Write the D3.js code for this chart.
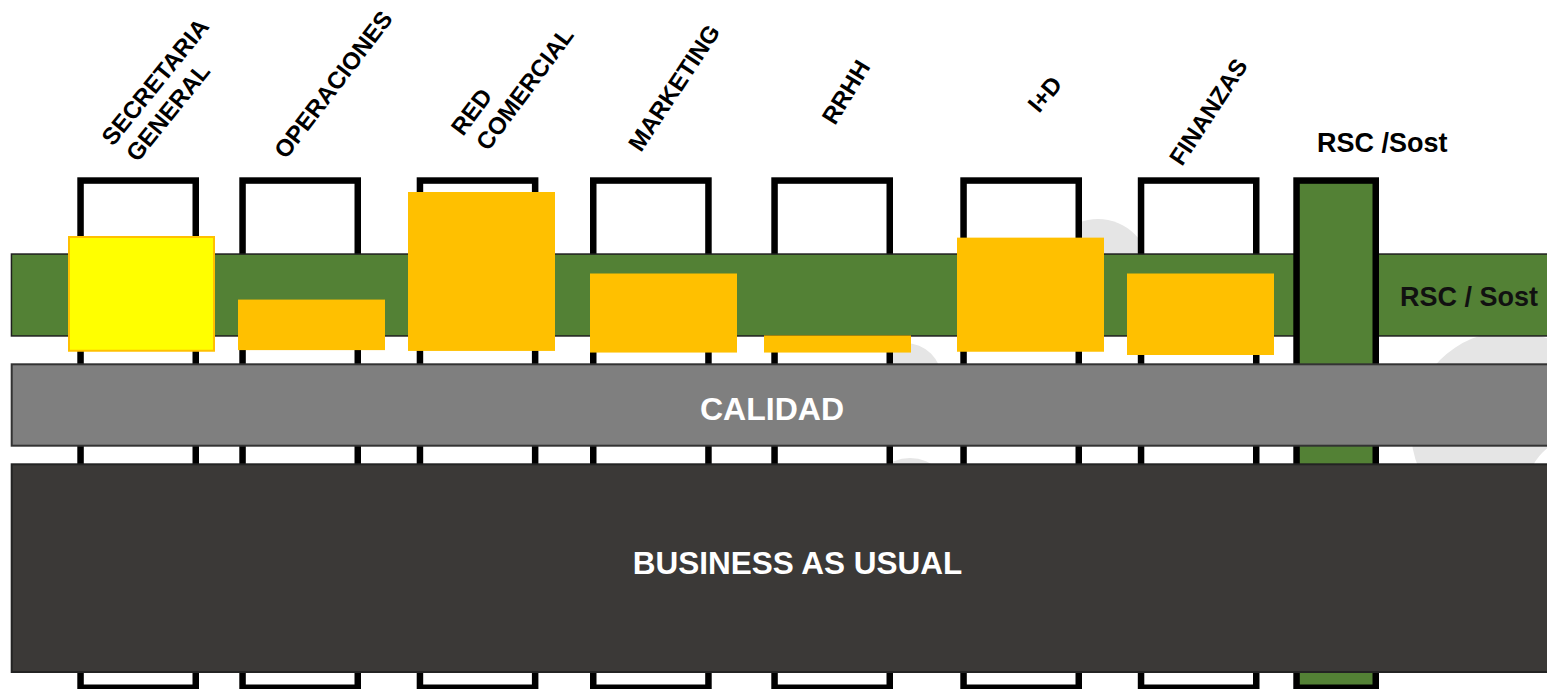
<!DOCTYPE html>
<html>
<head>
<meta charset="utf-8">
<style>
  body { margin: 0; background: #fff; }
  svg { display: block; }
</style>
</head>
<body>
<svg id="rsc-chart"></svg>
<script src="https://d3js.org/d3.v7.min.js"></script>
<script>

// business areas (vertical pillars) and the transversal RSC pillar
var areas = ['SECRETARIA GENERAL', 'OPERACIONES', 'RED COMERCIAL', 'MARKETING', 'RRHH', 'I+D', 'FINANZAS'];
var transversal = 'RSC /Sost';

// how far RSC reaches into each area (top and base of the orange box, 0-100)
var impactTop  = [73, 34, 100, 50, 12, 72, 50];
var impactBase = [2, 3, 2.5, 1.5, 1.5, 2, 0];
var highlighted = ['SECRETARIA GENERAL'];

// horizontal layers, top to bottom
var layers = ['RSC / Sost', 'CALIDAD', 'BUSINESS AS USUAL'];

var width = 1547, height = 689;
var svg = d3.select('#rsc-chart')
    .attr('width', width)
    .attr('height', height)
    .style('font-family', "'Liberation Sans', Arial, sans-serif")
    .style('font-weight', 'bold');

// layout
var pillarX = d3.scaleOrdinal()
    .domain(areas.concat([transversal]))
    .range([77.3, 239.3, 416.7, 590, 771.3, 960.3, 1137.8, 1293.3]);
var boxX = d3.scaleOrdinal()
    .domain(areas)
    .range([68, 238, 408, 590, 764, 957, 1127]);
var impactY = d3.scaleLinear().domain([0, 100]).range([355, 192]);
var layerY = d3.scaleOrdinal()
    .domain(layers)
    .range([[253.3, 336.7], [363.3, 446.7], [463.3, 673]]);
var layerFill = d3.scaleOrdinal().domain(layers).range(['#538135', '#7f7f7f', '#3b3937']);
var layerStroke = d3.scaleOrdinal().domain(layers).range(['#1f1f1f', '#333333', '#232323']);

var pillarTop = 177.3, pillarBottom = 691, pillarStroke = 6.5;
var boxWidth = 147;

// rotated header labels: baseline start and angle
var areaLabelAnchor = [[113, 147, -51], [286, 160, -52.6], [463, 137, -53.4], [641, 153, -56.6],
                       [835, 126, -58.6], [1039, 114, -50], [1182, 167, -56.7]];

// faint watermark behind the diagram
var wm = svg.append('g').style('fill', '#e5e5e5');
var ring = d3.path();
ring.arc(1510, 430, 99, 0, 2 * Math.PI);
ring.moveTo(1633, 490);
ring.arc(1580, 490, 53, 0, 2 * Math.PI);
wm.append('path').attr('d', ring.toString()).style('fill-rule', 'evenodd');
wm.append('circle').attr('cx', 1098).attr('cy', 271).attr('r', 52);
wm.append('circle').attr('cx', 905).attr('cy', 380).attr('r', 37);
wm.append('circle').attr('cx', 910).attr('cy', 500).attr('r', 42);

function pillarWidth(d) { return d === transversal ? 85.7 : 121.7; }

function drawPillars(sel) {
    sel.append('rect')
        .attr('x', function(d) { return pillarX(d) + pillarStroke / 2; })
        .attr('y', pillarTop + pillarStroke / 2)
        .attr('width', function(d) { return pillarWidth(d) - pillarStroke; })
        .attr('height', pillarBottom - pillarTop - pillarStroke)
        .style('fill', function(d) { return d === transversal ? '#538135' : '#fff'; })
        .style('stroke', '#000')
        .style('stroke-width', pillarStroke);
}

function drawLayer(g, name) {
    var sw = name === layers[0] ? 1.5 : 2;
    var yy = layerY(name);
    g.append('rect')
        .attr('x', 10.7 + sw / 2)
        .attr('y', yy[0] + sw / 2)
        .attr('width', 1560)
        .attr('height', yy[1] - yy[0] - sw)
        .style('fill', layerFill(name))
        .style('stroke', layerStroke(name))
        .style('stroke-width', sw);
}

// area pillars sit behind the RSC layer
var pillars = svg.append('g');
pillars.selectAll('g').data(areas).enter().append('g').call(drawPillars);

drawLayer(svg, layers[0]);

// the transversal pillar crosses over the RSC layer
svg.append('g').selectAll('g').data([transversal]).enter().append('g').call(drawPillars);

drawLayer(svg, layers[1]);
drawLayer(svg, layers[2]);

// impact boxes
svg.append('g').selectAll('rect')
    .data(areas)
    .enter().append('rect')
    .attr('x', function(d) { return boxX(d) + (highlighted.indexOf(d) >= 0 ? 1 : 0); })
    .attr('y', function(d, i) { return impactY(impactTop[i]) + (highlighted.indexOf(d) >= 0 ? 1 : 0); })
    .attr('width', function(d) { return boxWidth - (highlighted.indexOf(d) >= 0 ? 2 : 0); })
    .attr('height', function(d, i) {
        return impactY(impactBase[i]) - impactY(impactTop[i]) - (highlighted.indexOf(d) >= 0 ? 2 : 0);
    })
    .style('fill', function(d) { return highlighted.indexOf(d) >= 0 ? '#ffff00' : '#ffc000'; })
    .style('stroke', function(d) { return highlighted.indexOf(d) >= 0 ? '#ffc000' : 'none'; })
    .style('stroke-width', 2);

// header labels
var heads = svg.append('g').selectAll('text')
    .data(areas)
    .enter().append('text')
    .attr('transform', function(d, i) {
        var a = areaLabelAnchor[i];
        return 'translate(' + a[0] + ',' + a[1] + ') rotate(' + a[2] + ')';
    })
    .style('font-size', '24px')
    .style('fill', '#000');

heads.each(function(d) {
    var words = d.split(' ');
    var t = d3.select(this);
    words.forEach(function(w, j) {
        t.append('tspan').attr('x', j ? 3 : 0).attr('y', j * 29).text(w);
    });
});

svg.append('text')
    .attr('x', 1317)
    .attr('y', 152)
    .style('font-size', '27px')
    .style('fill', '#000')
    .text(transversal);

// layer labels
svg.append('text')
    .attr('x', 1538).attr('y', 306)
    .attr('text-anchor', 'end')
    .style('font-size', '27px')
    .style('fill', '#111')
    .text(layers[0]);

svg.append('text')
    .attr('x', 772).attr('y', 419.5)
    .attr('text-anchor', 'middle')
    .style('font-size', '32px')
    .style('fill', '#fff')
    .text(layers[1]);

svg.append('text')
    .attr('x', 797.5).attr('y', 574.3)
    .attr('text-anchor', 'middle')
    .style('font-size', '31.5px')
    .style('fill', '#fff')
    .text(layers[2]);

</script>
</body>
</html>
